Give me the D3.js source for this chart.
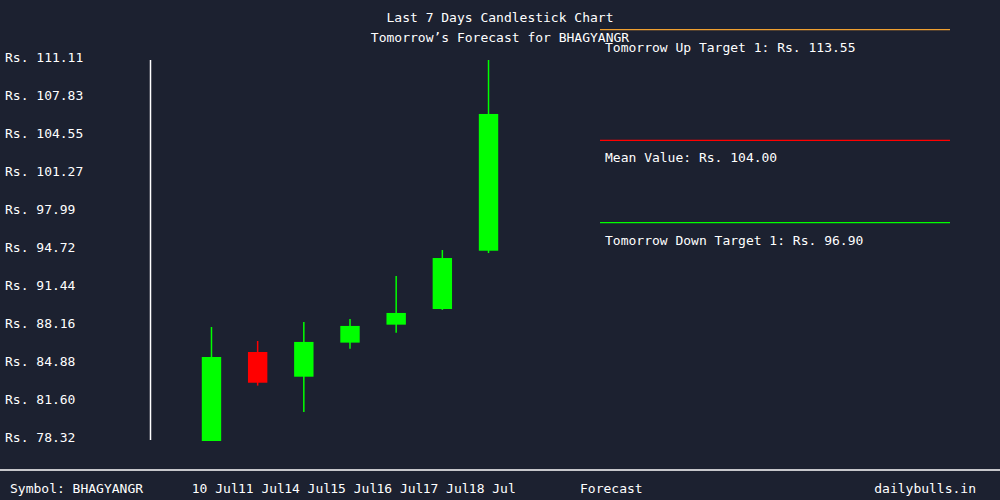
<!DOCTYPE html>
<html><head><meta charset="utf-8">
<script src="https://cdn.jsdelivr.net/npm/d3@7"></script>
<style>body{margin:0;background:#1c2130}svg{display:block}</style>
</head><body>
<script>
const WIDTH = 1000, HEIGHT = 500;
const FONT = "DejaVu Sans Mono, monospace";

const dates = ["10 Jul", "11 Jul", "14 Jul", "15 Jul", "16 Jul", "17 Jul", "18 Jul"];
const opens = [78.06, 85.74, 83.61, 86.55, 88.10, 89.45, 94.48];
const highs = [87.90, 86.69, 88.33, 88.59, 92.30, 94.54, 110.94];
const lows = [78.06, 82.84, 80.57, 86.03, 87.41, 89.37, 94.28];
const closes = [85.31, 83.09, 86.61, 87.99, 89.11, 93.85, 106.28];
const yTicks = [78.32, 81.60, 84.88, 88.16, 91.44, 94.72, 97.99, 101.27, 104.55, 107.83, 111.11];
const forecastVals = [113.55, 104.00, 96.90];
const forecastLabels = ["Tomorrow Up Target 1: Rs. 113.55", "Mean Value: Rs. 104.00", "Tomorrow Down Target 1: Rs. 96.90"];
const forecastColors = ["#f0a030", "#ff0000", "#00ff00"];

const svg = d3.select("body").append("svg").attr("width", WIDTH).attr("height", HEIGHT)
  .style("font-family", FONT).style("font-size", "13px");

const y = d3.scaleLinear().domain([78.32, 111.11]).range([438, 58]);
const x = d3.scaleBand().domain(dates).range([175, 525]).padding(0.58);

// titles
svg.append("text").attr("x", 500).attr("y", 22).attr("text-anchor", "middle").attr("fill", "#fff")
  .text("Last 7 Days Candlestick Chart");
svg.append("text").attr("x", 500).attr("y", 42).attr("text-anchor", "middle").attr("fill", "#fff")
  .text("Tomorrow’s Forecast for BHAGYANGR");

// y axis labels and line
svg.selectAll(".ytick").data(yTicks).enter().append("text")
  .attr("x", 5).attr("y", d => y(d) + 4).attr("fill", "#fff")
  .text(d => "Rs. " + d.toFixed(2));
svg.append("line").attr("x1", 150.5).attr("x2", 150.5).attr("y1", 60).attr("y2", 440)
  .attr("stroke", "#fff").attr("stroke-width", 1.5);

// candles
const idx = d3.range(dates.length);
const col = i => closes[i] >= opens[i] ? "#00ff00" : "#ff0000";
svg.selectAll(".wick").data(idx).enter().append("line")
  .attr("x1", i => x(dates[i]) + x.bandwidth() / 2).attr("x2", i => x(dates[i]) + x.bandwidth() / 2)
  .attr("y1", i => y(highs[i])).attr("y2", i => y(lows[i]))
  .attr("stroke", col).attr("stroke-width", 1.5);
svg.selectAll(".body").data(idx).enter().append("rect")
  .attr("x", i => x(dates[i])).attr("width", x.bandwidth())
  .attr("y", i => y(Math.max(opens[i], closes[i])))
  .attr("height", i => Math.abs(y(opens[i]) - y(closes[i])))
  .attr("fill", col);

// forecast lines
svg.selectAll(".fline").data(forecastVals).enter().append("line")
  .attr("x1", 600).attr("x2", 950).attr("y1", d => y(d)).attr("y2", d => y(d))
  .attr("stroke", (d, i) => forecastColors[i]).attr("stroke-width", 1.2);
svg.selectAll(".flabel").data(forecastVals).enter().append("text")
  .attr("x", 605).attr("y", d => y(d) + 22).attr("fill", "#fff")
  .text((d, i) => forecastLabels[i]);

// footer
svg.append("line").attr("x1", 0).attr("x2", WIDTH).attr("y1", 470).attr("y2", 470)
  .attr("stroke", "#fff").attr("stroke-width", 1.5);
svg.selectAll(".xtick").data(dates).enter().append("text")
  .attr("x", d => x(d) - 10).attr("y", 493).attr("fill", "#fff").text(d => d);
svg.append("text").attr("x", 580).attr("y", 493).attr("fill", "#fff").text("Forecast");
svg.append("text").attr("x", 10).attr("y", 493).attr("fill", "#fff").text("Symbol: BHAGYANGR");
svg.append("text").attr("x", 976).attr("y", 493).attr("text-anchor", "end").attr("fill", "#fff").text("dailybulls.in");
</script>
</body></html>
